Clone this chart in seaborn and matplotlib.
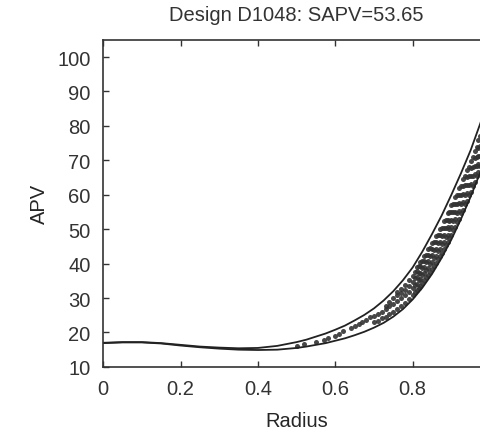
import pandas as pd
import matplotlib
matplotlib.use('Agg')
import matplotlib.pyplot as plt
import seaborn as sns

# envelope curves
radius = [0.00, 0.05, 0.10, 0.15, 0.20, 0.25, 0.30, 0.35, 0.40, 0.45, 0.50,
          0.525, 0.55, 0.575, 0.60, 0.625, 0.65, 0.675, 0.70, 0.725, 0.75,
          0.775, 0.80, 0.825, 0.85, 0.875, 0.90, 0.925, 0.95, 0.975, 1.00]
apv_upper = [17.0, 17.2, 17.2, 16.9, 16.4, 15.9, 15.6, 15.4, 15.5, 16.1, 17.2,
             17.9, 18.8, 19.7, 20.8, 22.0, 23.5, 25.1, 27.0, 29.3, 32.0,
             35.2, 38.9, 43.5, 48.6, 54.0, 60.0, 66.3, 73.0, 80.8, 89.0]
apv_lower = [16.9, 17.1, 17.1, 16.8, 16.2, 15.7, 15.3, 15.0, 14.9, 15.0, 15.5,
             15.9, 16.4, 16.9, 17.6, 18.3, 19.2, 20.2, 21.4, 22.8, 24.6,
             26.8, 29.6, 33.0, 37.0, 41.7, 47.0, 53.0, 59.5, 66.6, 74.0]

# sampled designs (dots between the envelopes)
pts_radius = [
    0.50, 0.52, 0.55, 0.57, 0.58, 0.60, 0.61, 0.62, 0.64, 0.65, 0.66, 0.67, 0.68, 0.69,
    0.70, 0.70, 0.71, 0.71, 0.72, 0.72, 0.73, 0.73, 0.73, 0.74, 0.74, 0.74,
    0.75, 0.75, 0.75, 0.76, 0.76, 0.76, 0.76, 0.77, 0.77, 0.77, 0.77,
    0.78, 0.78, 0.78, 0.78, 0.79, 0.79, 0.79, 0.79, 0.80, 0.80, 0.80, 0.80,
    0.81, 0.81, 0.81, 0.81, 0.81, 0.82, 0.82, 0.82, 0.82, 0.82,
    0.83, 0.83, 0.83, 0.83, 0.83, 0.84, 0.84, 0.84, 0.84, 0.84,
    0.85, 0.85, 0.85, 0.85, 0.85, 0.86, 0.86, 0.86, 0.86, 0.86,
    0.87, 0.87, 0.87, 0.87, 0.87, 0.88, 0.88, 0.88, 0.88, 0.88,
    0.89, 0.89, 0.89, 0.89, 0.89, 0.90, 0.90, 0.90, 0.90, 0.90,
    0.91, 0.91, 0.91, 0.91, 0.91, 0.92, 0.92, 0.92, 0.92, 0.92,
    0.93, 0.93, 0.93, 0.93, 0.93, 0.94, 0.94, 0.94, 0.94, 0.94,
    0.95, 0.95, 0.95, 0.95, 0.95, 0.96, 0.96, 0.96, 0.96, 0.96,
    0.97, 0.97, 0.97, 0.97, 0.97,
    0.805, 0.805, 0.805, 0.805, 0.815, 0.815, 0.815, 0.815,
    0.825, 0.825, 0.825, 0.825, 0.835, 0.835, 0.835, 0.835,
    0.845, 0.845, 0.845, 0.845, 0.855, 0.855, 0.855, 0.855,
    0.865, 0.865, 0.865, 0.865, 0.875, 0.875, 0.875, 0.875,
    0.885, 0.885, 0.885, 0.885, 0.895, 0.895, 0.895, 0.895,
    0.905, 0.905, 0.905, 0.905, 0.915, 0.915, 0.915, 0.915,
    0.925, 0.925, 0.925, 0.925, 0.935, 0.935, 0.935, 0.935,
    0.945, 0.945, 0.945, 0.945, 0.955, 0.955, 0.955, 0.955,
    0.965, 0.965, 0.965, 0.965, 0.975, 0.975, 0.975, 0.975,
]
pts_apv = [
    16.2, 16.6, 17.3, 17.9, 18.5, 19.0, 19.6, 20.4, 21.3, 21.8, 22.6, 22.9, 23.6, 24.4,
    23.0, 24.8, 23.4, 25.5, 24.1, 26.0, 24.6, 26.9, 27.8, 25.3, 27.6, 28.9,
    26.0, 28.2, 29.9, 26.9, 29.0, 30.8, 31.7, 27.8, 29.9, 31.6, 32.6,
    28.6, 30.8, 32.4, 33.8, 29.8, 31.8, 33.5, 35.2, 31.0, 32.9, 34.6, 36.5,
    32.3, 34.2, 36.1, 37.9, 39.0, 33.6, 35.6, 37.4, 39.3, 40.6,
    35.1, 37.2, 39.0, 40.8, 42.3, 36.7, 38.8, 40.7, 42.6, 44.1,
    38.3, 40.4, 42.4, 44.3, 46.0, 40.2, 42.3, 44.3, 46.2, 48.0,
    42.1, 44.2, 46.2, 48.2, 50.1, 44.1, 46.2, 48.3, 50.3, 52.3,
    46.2, 48.4, 50.5, 52.6, 54.6, 48.3, 50.5, 52.7, 54.9, 56.9,
    50.7, 52.9, 55.1, 57.3, 59.4, 53.1, 55.3, 57.6, 59.8, 61.9,
    55.6, 57.9, 60.2, 62.4, 64.5, 58.2, 60.5, 62.8, 65.1, 67.2,
    60.8, 63.1, 65.4, 67.8, 69.9, 63.6, 66.0, 68.3, 70.7, 72.8,
    66.5, 68.9, 71.3, 73.6, 75.8,
    31.7, 33.8, 35.8, 37.6, 33.0, 35.1, 37.2, 39.2,
    34.5, 36.6, 38.7, 40.9, 36.0, 38.2, 40.4, 42.6,
    37.6, 39.9, 42.1, 44.4, 39.4, 41.7, 43.9, 46.3,
    41.3, 43.6, 45.9, 48.3, 43.2, 45.6, 48.0, 50.4,
    45.3, 47.8, 50.2, 52.7, 47.5, 50.0, 52.5, 55.0,
    49.8, 52.3, 54.9, 57.4, 52.2, 54.8, 57.4, 60.0,
    54.7, 57.3, 60.0, 62.6, 57.3, 60.0, 62.7, 65.4,
    59.9, 62.7, 65.4, 68.1, 62.6, 65.4, 68.2, 71.0,
    65.5, 68.3, 71.1, 74.0, 68.4, 71.2, 74.1, 77.0,
]

sns.set_style("ticks")
plt.rcParams['font.family'] = ['Liberation Sans', 'DejaVu Sans']
plt.rcParams['text.color'] = '#333333'

curves = pd.DataFrame({"Radius": radius, "upper": apv_upper, "lower": apv_lower})
dots = pd.DataFrame({"Radius": pts_radius, "APV": pts_apv})

fig = plt.figure(figsize=(4.8, 4.39), dpi=100)
ax = fig.add_axes([0.215, 0.162, 0.806, 0.745])

sns.scatterplot(x="Radius", y="APV", data=dots, ax=ax, color="#333333",
                s=13, linewidth=0, alpha=0.9)
sns.lineplot(x="Radius", y="upper", data=curves, ax=ax, color="#222222", lw=1.3)
sns.lineplot(x="Radius", y="lower", data=curves, ax=ax, color="#222222", lw=1.3)

ax.set_xlim(0, 1)
ax.set_ylim(10, 105)
ax.set_xticks([0, 0.2, 0.4, 0.6, 0.8])
ax.set_xticklabels(["0", "0.2", "0.4", "0.6", "0.8"])
ax.set_yticks(range(10, 101, 10))
ax.tick_params(direction="in", top=True, right=True, labelsize=14.5,
               colors="#333333", length=4, width=1, pad=9)
for sp in ax.spines.values():
    sp.set_linewidth(1.2)
    sp.set_color("#333333")

ax.set_title("Design D1048: SAPV=53.65", fontsize=14.5, pad=14)
ax.set_xlabel("Radius", fontsize=14.5, labelpad=9)
ax.set_ylabel("APV", fontsize=14.5, labelpad=6)

plt.savefig("out.png", dpi=100)
plt.close()
